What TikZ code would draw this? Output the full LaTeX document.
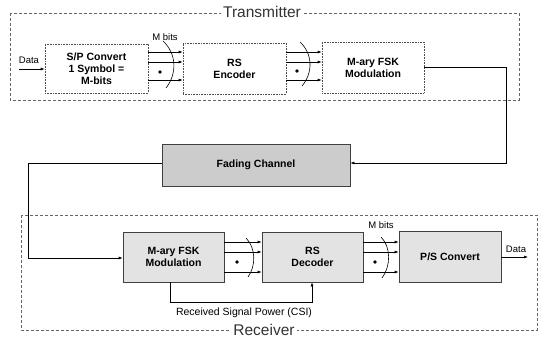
\documentclass[tikz,border=0pt]{standalone}
\usepackage{fontspec}
\setmainfont{Liberation Sans}
\usetikzlibrary{arrows.meta}
\begin{document}
\begin{tikzpicture}[x=1pt,y=-1pt,
  txblock/.style={draw=black!70, densely dotted, line width=0.6pt, fill=white, align=center,
    font=\fontsize{10.5}{12}\selectfont\bfseries, inner sep=0pt},
  rxblock/.style={draw=black!75, line width=0.6pt, fill=gray!22, align=center,
    font=\fontsize{10.5}{12}\selectfont\bfseries, inner sep=0pt},
  chblock/.style={draw=black!75, line width=0.6pt, fill=gray!40, align=center,
    font=\fontsize{10.5}{12}\selectfont\bfseries, inner sep=0pt},
  frame/.style={draw=black!60, dash pattern=on 3pt off 2pt, line width=0.6pt},
  title/.style={fill=white, font=\fontsize{15.5}{17}\selectfont, text=black!80, inner sep=2pt},
  lbl/.style={font=\fontsize{9.5}{11}\selectfont, inner sep=0pt},
  conn/.style={draw=black, line width=0.6pt},
  arr/.style={conn, -{Latex[length=4pt,width=3pt]}},
  bus/.style={draw=black, line width=0.6pt},
  busdot/.style={fill=black, circle, inner sep=0pt, minimum size=3.6pt}
]
\useasboundingbox (0,0) rectangle (544,343);

% frames
\draw[frame] (10,13) rectangle (519,100);
\draw[frame] (21,215) rectangle (537,330);
\node[title] (ttx) at (262,12) {Transmitter};
\node[title] (trx) at (264,330) {Receiver};

% transmitter blocks
\node[txblock, minimum width=103pt, minimum height=49pt] (sp) at (96.5,68.5) {S/P Convert\\1 Symbol =\\M-bits};
\node[txblock, minimum width=103pt, minimum height=51pt] (enc) at (234.5,68.5) {RS\\Encoder};
\node[txblock, minimum width=102pt, minimum height=51pt] (mod) at (373,67.5) {M-ary FSK\\Modulation};

% channel
\node[chblock, minimum width=188pt, minimum height=42pt] (ch) at (256,165) {Fading Channel};

% receiver blocks
\node[rxblock, minimum width=101pt, minimum height=50pt] (dem) at (173.5,257) {M-ary FSK\\Modulation};
\node[rxblock, minimum width=101pt, minimum height=50pt] (dec) at (312.5,257) {RS\\Decoder};
\node[rxblock, minimum width=102pt, minimum height=51pt] (ps) at (450,256.5) {P/S Convert};

% row coordinates
\coordinate (t1) at (0,52);
\coordinate (t2) at (0,62);
\coordinate (t3) at (0,80);
\coordinate (r1) at (0,242);
\coordinate (r2) at (0,252);
\coordinate (r3) at (0,272);

% data in
\coordinate (din) at (19,69);
\draw[arr] (din) -- (sp.west |- din);
\node[lbl] (ldin) at (29,60) {Data};

% buses transmitter
\foreach \r in {t1,t2,t3}{
  \draw[arr] (sp.east |- \r) -- (enc.west |- \r);
  \draw[arr] (enc.east |- \r) -- (mod.west |- \r);
}
\node[busdot] (d1) at (160,72) {};
\node[busdot] (d2) at (297,71) {};
\draw[bus] (163,41) .. controls (177,54) and (177,74) .. (166,88);
\draw[bus] (300,42) .. controls (313,54) and (313,73) .. (302,86);
\node[lbl] (mb1) at (165,37) {M bits};

% tx to channel
\coordinate (c1) at (506,67);
\coordinate (c2) at (506,163);
\draw[arr] (mod.east |- c1) -- (c1) -- (c2) -- (ch.east |- c2);

% channel to rx
\coordinate (c3) at (28,163);
\coordinate (c4) at (28,258);
\draw[arr] (ch.west |- c3) -- (c3) -- (c4) -- (dem.west |- c4);

% buses receiver
\foreach \r in {r1,r2,r3}{
  \draw[arr] (dem.east |- \r) -- (dec.west |- \r);
  \draw[arr] (dec.east |- \r) -- (ps.west |- \r);
}
\node[busdot] (d3) at (237,262) {};
\node[busdot] (d4) at (375,262) {};
\draw[bus] (246,238) .. controls (256,248) and (256,266) .. (248,277);
\draw[bus] (381,237) .. controls (391,247) and (391,266) .. (382,278);
\node[lbl] (mb2) at (381,225) {M bits};

% data out
\coordinate (dout) at (528,257);
\draw[arr] (ps.east |- dout) -- (dout);
\node[lbl] (ldout) at (516,249) {Data};

% CSI feedback
\coordinate (f1) at (170,302);
\coordinate (f2) at (312,302);
\draw[arr] (dem.south -| f1) -- (f1) -- (f2) -- (dec.south -| f2);
\node[lbl, font=\fontsize{10.5}{12}\selectfont] (lcsi) at (244,313) {Received Signal Power (CSI)};
\end{tikzpicture}
\end{document}
